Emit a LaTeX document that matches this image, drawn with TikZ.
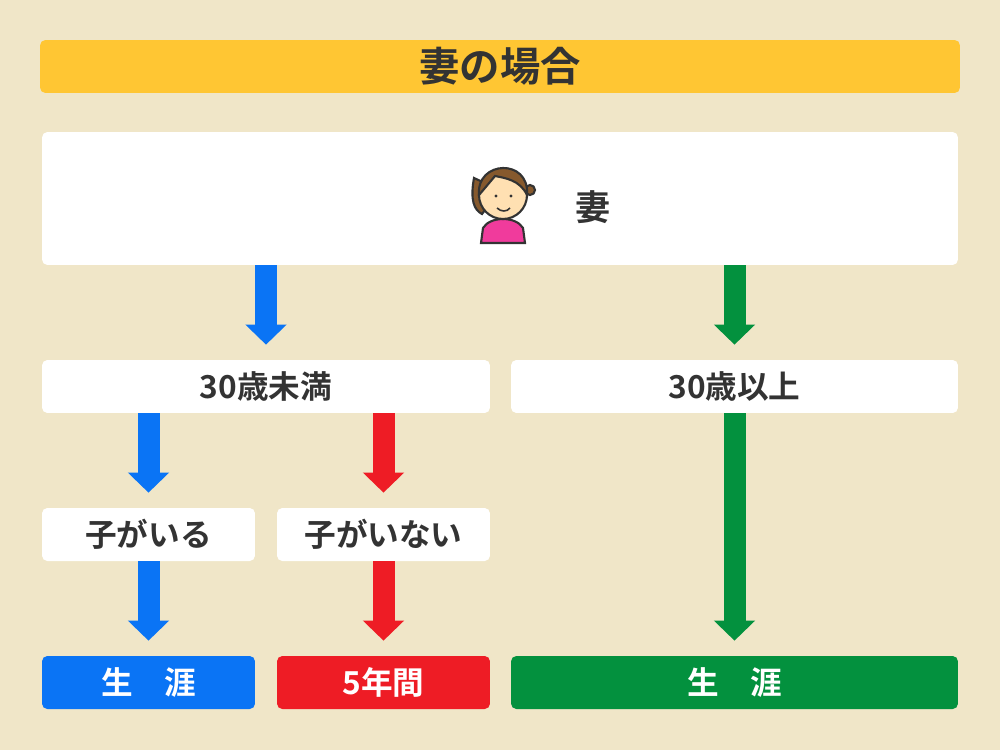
\documentclass[tikz,border=0pt]{standalone}
\usepackage{fontspec}
\setmainfont{Noto Sans CJK JP}[BoldFont={Noto Sans CJK JP Bold}]
\usetikzlibrary{arrows.meta,positioning}
\definecolor{bg}{HTML}{F0E6C8}
\definecolor{gold}{HTML}{FFC633}
\definecolor{myblue}{HTML}{0A74F5}
\definecolor{myred}{HTML}{EE1C25}
\definecolor{mygreen}{HTML}{03913E}
\definecolor{ink}{HTML}{333333}
\tikzset{
    box/.style={
           rectangle,
           rounded corners=3pt,
           fill=white,
           minimum height=1.06cm,
           inner sep=0pt,
           text=ink,
           font=\bfseries\fontsize{18}{20}\selectfont,
           },
    result/.style={box, text=white},
    flow/.style={line width=0.44cm, shorten >=0.3cm,
           -{Triangle[width=0.8cm,length=0.4cm]}},
}
\begin{document}
\begin{tikzpicture}[x=0.02cm,y=-0.02cm]
  \fill[bg] (0,0) rectangle (1000,750);

  \node[box, fill=gold, minimum width=18.4cm, font=\bfseries\fontsize{23}{26}\selectfont] (title) at (500,66.5) {妻の場合};
  \node[box, minimum width=18.32cm, minimum height=2.66cm] (wife) at (500,198.5) {};
  \node (wifelabel) at (593,207) {\bfseries\fontsize{20}{22}\selectfont\color{ink}妻};

  % person icon
  \begin{scope}[draw=ink, line width=1.2pt]
    \filldraw[fill=magenta!70!pink] (481,243) -- (483,228) .. controls (490,216) and (516,216) .. (523,228) -- (525,243) -- cycle;
    \filldraw[fill=brown!70!black] (474,178) .. controls (470,200) and (474,210) .. (482,214) -- (500,190) -- cycle;
    \filldraw[fill=brown!70!black] (530,190) circle (5);
    \filldraw[fill={rgb,255:red,255;green,224;blue,178}] (503,195) circle (24);
    \filldraw[fill=brown!70!black] (479,195) .. controls (476,160) and (530,158) .. (527,195)
      .. controls (520,180) and (505,178) .. (495,176) .. controls (490,182) and (485,188) .. (479,195) -- cycle;
    \fill[ink] (496,196) circle (1.6) (511,196) circle (1.6);
    \draw[line width=0.9pt] (497,208) .. controls (501,212) and (507,212) .. (510,208);
  \end{scope}

  \node[box, minimum width=8.96cm] (young) at (266,386.5) {30歳未満};
  \node[box, minimum width=8.94cm] (old) at (734.5,386.5) {30歳以上};
  \node[box, minimum width=4.26cm] (child) at (148.5,534.5) {子がいる};
  \node[box, minimum width=4.26cm] (nochild) at (383.5,534.5) {子がいない};
  \node[result, fill=myblue, minimum width=4.26cm] (life1) at (148.5,682.5) {生\quad 涯};
  \node[result, fill=myred, minimum width=4.26cm] (five) at (383.5,682.5) {5年間};
  \node[result, fill=mygreen, minimum width=8.94cm] (life2) at (734.5,682.5) {生\quad 涯};

  \draw[flow, myblue] (wife.south -| young.north) -- (young.north);
  \draw[flow, mygreen] (wife.south -| old.north) -- (old.north);
  \draw[flow, myblue] (young.south -| child.north) -- (child.north);
  \draw[flow, myred] (young.south -| nochild.north) -- (nochild.north);
  \draw[flow, myblue] (child.south) -- (life1.north);
  \draw[flow, myred] (nochild.south) -- (five.north);
  \draw[flow, mygreen] (old.south) -- (life2.north);
\end{tikzpicture}
\end{document}
